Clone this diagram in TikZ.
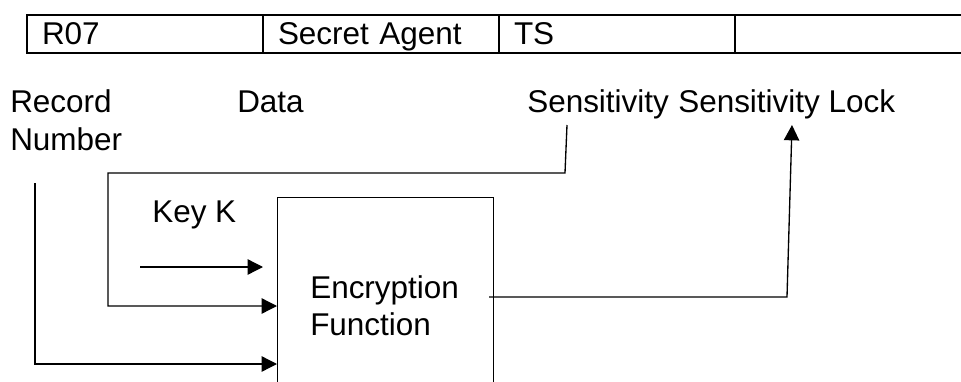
\documentclass[tikz,border=0pt]{standalone}
\usepackage{fontspec}
\setmainfont{Liberation Sans}
\usetikzlibrary{arrows.meta}
\begin{document}
\begin{tikzpicture}[x=0.75pt,y=-0.75pt,
  lbl/.style={anchor=base west, inner sep=0pt, font=\fontsize{23.6}{28}\selectfont},
  cell/.style={draw, line width=1.5pt, anchor=north west, minimum width=177pt,
    minimum height=28.5pt, text width=154.5pt, inner xsep=11.25pt, align=left,
    text height=16.5pt, text depth=0pt, font=\fontsize{23.6}{28}\selectfont},
  wire/.style={line width=1pt},
  arr/.style={wire, -{Triangle[length=11.5pt,width=11.5pt]}},
  funcbox/.style={draw, wire, anchor=north west, minimum width=162pt, minimum height=170pt, inner sep=0pt}]
\useasboundingbox (0,0) rectangle (961,382);
\clip (0,0) rectangle (961,382);

% record row
\node[cell] (c1) at (26,14) {R07};
\node[cell] (c2) at (262,14) {Secret Agent};
\node[cell] (c3) at (498,14) {TS};
\node[cell] (c4) at (734,14) {};

% field labels
\node[lbl] (rec) at (10,112) {Record};
\node[lbl] (num) at (10,150) {Number};
\node[lbl] (data) at (237,112) {Data};
\node[lbl] (sens) at (527,112) {Sensitivity};
\node[lbl] (lock) at (678,112) {Sensitivity Lock};
\node[lbl] (key) at (152,222) {Key K};

% encryption function
\node[funcbox] (fbox) at (277,197) {};
\node[lbl] (enc1) at (310,298) {Encryption};
\node[lbl] (enc2) at (310,335) {Function};

% connector end points
\coordinate (rnTop) at (35,183);
\coordinate (dTop) at (567,125);
\coordinate (kStart) at (140,267);
\coordinate (inK) at (263,267);
\coordinate (inD) at (277,306);
\coordinate (inR) at (277,364);
\coordinate (outL) at (489,297);
\coordinate (lockTip) at (792,125);

% connectors
\draw[arr] (rnTop) |- (inR);
\draw[arr] (dTop) -- (565,173) -- (108,173) |- (inD);
\draw[arr] (kStart) -- (inK);
\draw[arr] (outL) -- (787,297) -- (lockTip);
\end{tikzpicture}
\end{document}
